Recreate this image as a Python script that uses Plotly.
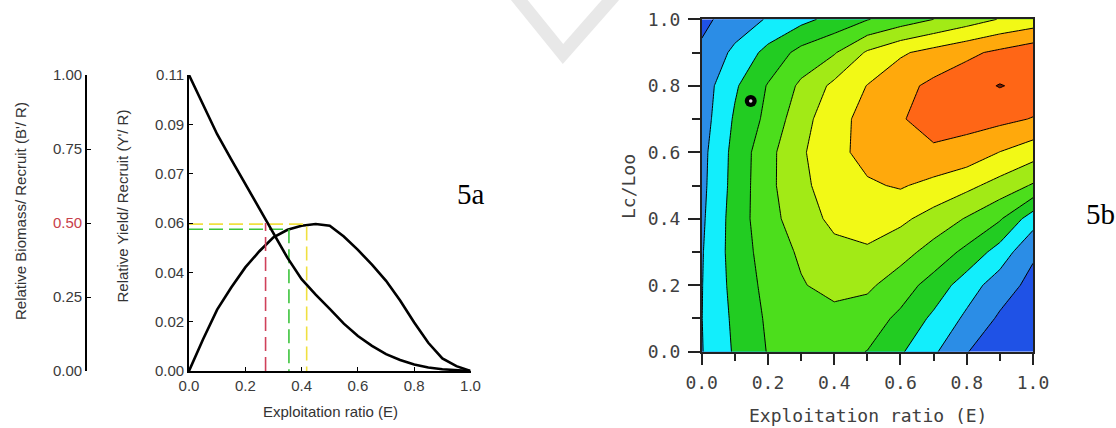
import plotly.graph_objects as go

W, H = 1116, 428

# ---------------- Panel 5a data ----------------
exploitation = [0.00, 0.05, 0.10, 0.15, 0.20, 0.25, 0.30, 0.35, 0.40, 0.45, 0.50,
                0.55, 0.60, 0.65, 0.70, 0.75, 0.80, 0.85, 0.90, 0.95, 1.00]
biomass_per_recruit = [1.000, 0.900, 0.800, 0.715, 0.632, 0.548, 0.465, 0.382, 0.310, 0.258, 0.210,
                       0.160, 0.118, 0.085, 0.057, 0.037, 0.022, 0.012, 0.006, 0.002, 0.000]
yield_per_recruit = [0.0000, 0.0118, 0.0228, 0.0310, 0.0385, 0.0445, 0.0497, 0.0525, 0.0540, 0.0546, 0.0540,
                     0.0500, 0.0450, 0.0395, 0.0335, 0.0262, 0.0180, 0.0105, 0.0047, 0.0018, 0.0000]

E_05, B_05 = 0.272, 0.50      # E at which B'/R = 0.5 (red)
E_01, Y_01 = 0.355, 0.0527    # E0.1 (green)
E_max, Y_max = 0.418, 0.0546  # Emax (yellow)

x_ticks = [0.0, 0.2, 0.4, 0.6, 0.8, 1.0]
x_tick_labels = ["0.0", "0.2", "0.4", "0.6", "0.8", "1.0"]
yield_ticks = [0.0, 0.01833, 0.03667, 0.055, 0.07333, 0.09167, 0.11]
yield_tick_labels = ["0.00", "0.02", "0.04", "0.06", "0.07", "0.09", "0.11"]
biomass_ticks = [0.0, 0.25, 0.50, 0.75, 1.00]
biomass_tick_labels = ["0.00", "0.25", '<span style="color:#c8404a">0.50</span>', "0.75", "1.00"]

# ---------------- Panel 5b data ----------------
E_grid = [0.0, 0.1, 0.2, 0.3, 0.4, 0.5, 0.6, 0.7, 0.8, 0.9, 1.0]
Lc_grid = [0.0, 0.1, 0.2, 0.3, 0.4, 0.5, 0.6, 0.7, 0.8, 0.9, 1.0]
yield_isopleth = [
    [1.45, 2.62, 3.55, 3.75, 3.75, 3.48, 2.62, 1.65, 0.56, -0.40, -1.00],
    [1.48, 2.71, 3.65, 4.10, 4.15, 3.95, 3.30, 2.29, 1.30, 0.35, -0.30],
    [1.46, 2.84, 3.79, 4.42, 4.85, 4.70, 3.95, 3.12, 1.97, 1.00, 0.19],
    [1.42, 2.94, 3.94, 4.65, 5.20, 5.35, 4.90, 4.10, 3.25, 2.06, 0.66],
    [1.33, 2.94, 4.16, 5.01, 5.75, 6.00, 5.70, 5.13, 4.42, 3.61, 1.95],
    [1.25, 2.85, 4.22, 5.32, 5.89, 6.37, 6.60, 6.19, 5.76, 5.13, 4.40],
    [1.20, 2.81, 4.19, 5.37, 6.18, 6.85, 7.25, 7.40, 7.10, 6.48, 5.94],
    [1.03, 2.63, 3.76, 5.13, 6.13, 6.84, 7.45, 7.75, 7.85, 7.75, 7.45],
    [0.97, 2.36, 3.57, 4.69, 5.74, 6.53, 7.20, 7.72, 8.13, 8.55, 8.20],
    [0.67, 1.72, 2.81, 3.82, 4.41, 5.63, 6.36, 6.84, 7.28, 7.71, 8.15],
    [0.27, 0.93, 1.59, 2.21, 2.83, 3.45, 3.98, 4.50, 5.02, 5.55, 5.90],
]
band_colors = ["#1f52e6", "#2b8de6", "#12eefc", "#22cc22", "#4cde1c",
               "#a2ea16", "#f2f916", "#ffa90c", "#ff6616", "#7a1a00"]
current_E = [0.148]
current_Lc = [0.754]
iso_ticks = [0.0, 0.2, 0.4, 0.6, 0.8, 1.0]
iso_tick_labels = ["0.0", "0.2", "0.4", "0.6", "0.8", "1.0"]
iso_minor_ticks = [0.1, 0.3, 0.5, 0.7, 0.9]


def px(x):
    return x / W


def py(y):
    return 1 - y / H


fig = go.Figure()

# ---- 5a curves ----
fig.add_trace(go.Scatter(x=exploitation, y=biomass_per_recruit, yaxis="y3", xaxis="x",
                         mode="lines", line=dict(color="black", width=2.6), showlegend=False))
fig.add_trace(go.Scatter(x=exploitation, y=yield_per_recruit, xaxis="x", yaxis="y",
                         mode="lines", line=dict(color="black", width=2.6), showlegend=False))

dash = "14px,6px"
# red: E0.5 (on biomass axis)
fig.add_trace(go.Scatter(x=[E_05, E_05], y=[0, B_05], xaxis="x", yaxis="y3", mode="lines",
                         line=dict(color="#d0405a", width=1.6, dash=dash), showlegend=False))
# green: E0.1
fig.add_trace(go.Scatter(x=[0, E_01, E_01], y=[Y_01, Y_01, 0], xaxis="x", yaxis="y", mode="lines",
                         line=dict(color="#3cc43c", width=1.6, dash=dash), showlegend=False))
# yellow: Emax
fig.add_trace(go.Scatter(x=[0, E_max, E_max], y=[Y_max, Y_max, 0], xaxis="x", yaxis="y", mode="lines",
                         line=dict(color="#f0e040", width=1.6, dash=dash), showlegend=False))

# ---- 5b contour ----
fig.add_trace(go.Contour(
    x=E_grid, y=Lc_grid, z=yield_isopleth, xaxis="x2", yaxis="y2",
    autocontour=False,
    contours=dict(start=0.5, end=8.5, size=1, coloring="fill", showlines=True),
    line=dict(color="black", width=1, smoothing=0),
    colorscale=[[i / (len(band_colors) - 1), c] for i, c in enumerate(band_colors)],
    showscale=False, hoverinfo="skip"))
fig.add_trace(go.Scatter(x=current_E, y=current_Lc, xaxis="x2", yaxis="y2", mode="markers",
                         marker=dict(symbol="circle", size=12, color="black"), showlegend=False))
fig.add_trace(go.Scatter(x=current_E, y=current_Lc, xaxis="x2", yaxis="y2", mode="markers",
                         marker=dict(symbol="circle", size=3.5, color="#d8d8d8"), showlegend=False))

left_font = dict(family="Liberation Sans, Arial", size=15, color="#3a3a3a")
mono_font = dict(family="DejaVu Sans Mono, monospace", size=18, color="#404040")

fig.update_layout(
    width=W, height=H,
    margin=dict(l=0, r=0, t=0, b=0, autoexpand=False),
    paper_bgcolor="white", plot_bgcolor="white",
    showlegend=False,
    xaxis=dict(domain=[px(189), px(470.5)], range=[0, 1], anchor="y",
               tickvals=x_ticks, ticktext=x_tick_labels, ticks="inside", ticklen=4,
               tickcolor="black", tickwidth=1.3, showline=True, linecolor="black", linewidth=1.6,
               showgrid=False, zeroline=False, tickfont=left_font, automargin=False,
               ticklabelstandoff=0),
    yaxis=dict(domain=[py(371), py(75)], range=[0, 0.11], anchor="x",
               tickvals=yield_ticks, ticktext=yield_tick_labels, ticks="inside", ticklen=4,
               tickcolor="black", tickwidth=1.3, showline=True, linecolor="black", linewidth=1.6,
               showgrid=False, zeroline=False, tickfont=left_font, automargin=False,
               ticklabelstandoff=0),
    yaxis3=dict(overlaying="y", anchor="free", position=px(86), side="left", range=[0, 1],
                tickvals=biomass_ticks, ticktext=biomass_tick_labels, ticks="inside", ticklen=4,
                tickcolor="black", tickwidth=1.3, showline=True, linecolor="black", linewidth=1.6,
                showgrid=False, zeroline=False, tickfont=left_font, automargin=False,
                ticklabelstandoff=0),
    xaxis2=dict(domain=[px(701.7), px(1033)], range=[0, 1], anchor="y2",
                tickvals=iso_ticks, ticktext=iso_tick_labels, ticks="outside", ticklen=12,
                tickcolor="#222", tickwidth=1.5,
                minor=dict(tickvals=iso_minor_ticks, ticks="outside", ticklen=8,
                           tickcolor="#222", tickwidth=1.5),
                showline=True, linecolor="#222", linewidth=1.5, mirror=True,
                showgrid=False, zeroline=False, tickfont=mono_font, automargin=False,
                ticklabelstandoff=2),
    yaxis2=dict(domain=[py(351.7), py(19.3)], range=[0, 1], anchor="x2",
                tickvals=iso_ticks, ticktext=iso_tick_labels, ticks="outside", ticklen=12,
                tickcolor="#222", tickwidth=1.5,
                minor=dict(tickvals=iso_minor_ticks, ticks="outside", ticklen=8,
                           tickcolor="#222", tickwidth=1.5),
                showline=True, linecolor="#222", linewidth=1.5, mirror=True,
                showgrid=False, zeroline=False, tickfont=mono_font, automargin=False,
                ticklabelstandoff=4),
)

title_font = dict(family="Liberation Sans, Arial", size=15, color="#333")
annotations = [
    dict(text="Relative Biomass/ Recruit (B'/ R)", x=px(20), y=py(211), textangle=-90, font=title_font),
    dict(text="Relative Yield/ Recruit (Y'/ R)", x=px(121.5), y=py(206), textangle=-90, font=title_font),
    dict(text="Exploitation ratio (E)", x=px(330), y=py(411), font=title_font),
    dict(text="5a", x=px(471), y=py(194),
         font=dict(family="Liberation Serif, Times New Roman", size=29, color="black")),
    dict(text="5b", x=px(1100), y=py(214),
         font=dict(family="Liberation Serif, Times New Roman", size=29, color="black")),
    dict(text="Lc/Loo", x=px(628), y=py(187), textangle=-90, font=mono_font),
    dict(text="Exploitation ratio (E)", x=px(868), y=py(415), font=mono_font),
]
for a in annotations:
    a.update(xref="paper", yref="paper", showarrow=False, xanchor="center", yanchor="middle")
fig.update_layout(annotations=annotations)

# faint watermark stroke
fig.add_shape(type="path", xref="paper", yref="paper",
              path=f"M {px(516)},{py(-4)} L {px(563)},{py(54)} L {px(614)},{py(-4)}",
              line=dict(color="#e8e8e8", width=13), layer="below")

fig.write_html("out.html", config={"displayModeBar": False},
               post_script="document.body.style.margin='0';document.body.style.padding='0';")
